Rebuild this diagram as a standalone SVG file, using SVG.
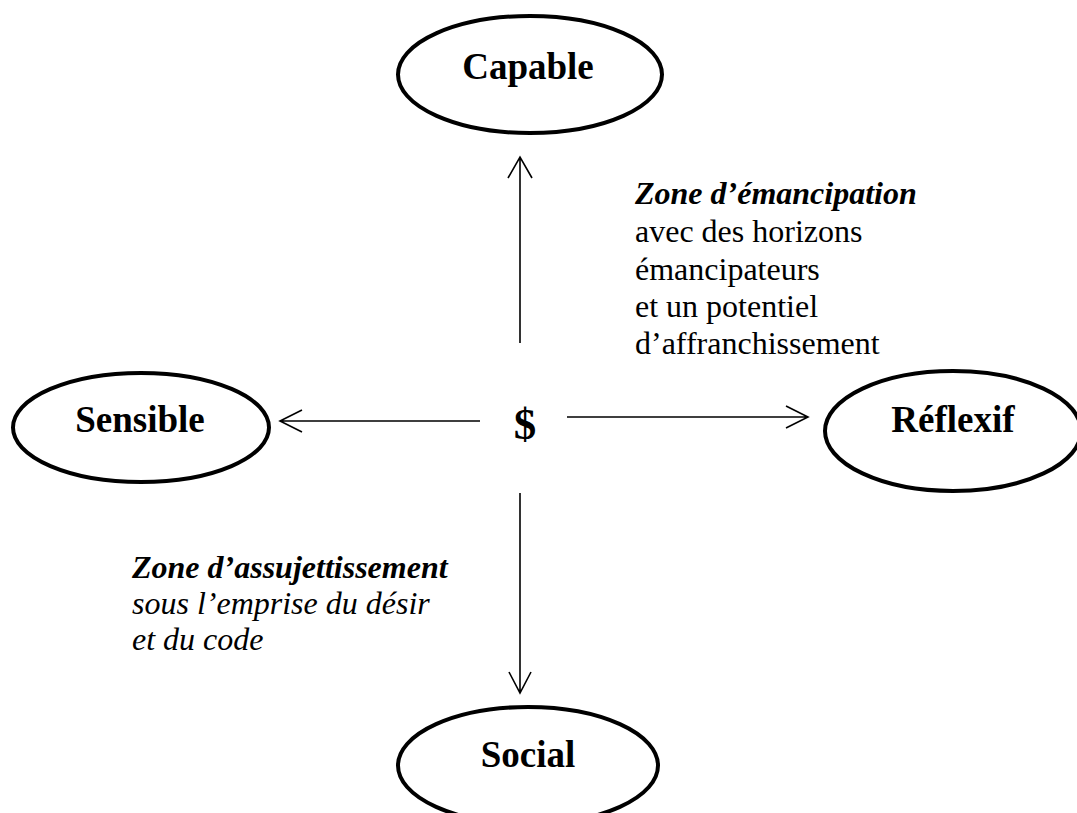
<svg xmlns="http://www.w3.org/2000/svg" width="1077" height="813" viewBox="0 0 1077 813">
<style>
.node{fill:none;stroke:#000;stroke-width:4}
.lbl{font-family:"Liberation Serif","Times New Roman",serif;font-weight:bold;font-size:37px;text-anchor:middle;fill:#000}
.con{fill:none;stroke:#000;stroke-width:1.6}
.txt{font-family:"Liberation Serif","Times New Roman",serif;font-size:32px;fill:#000}
.bi{font-weight:bold;font-style:italic}
.it{font-style:italic}
</style>
<rect width="1077" height="813" fill="#fff"/>
<g id="capable"><ellipse class="node" cx="530" cy="74.5" rx="132" ry="58.5"/><text class="lbl" x="528" y="79">Capable</text></g>
<g id="sensible"><ellipse class="node" cx="141" cy="427.5" rx="128" ry="54.5"/><text class="lbl" x="140" y="432">Sensible</text></g>
<g id="reflexif"><ellipse class="node" cx="953" cy="431" rx="128" ry="60"/><text class="lbl" x="953" y="432">Réflexif</text></g>
<g id="social"><ellipse class="node" cx="528" cy="765.5" rx="130" ry="58.5"/><text class="lbl" x="528" y="767">Social</text></g>
<g id="subject"><text class="lbl" x="525" y="439" style="font-size:45px">$</text></g>
<g id="connectors">
<path class="con" d="M520 343V157M508 178L520 157L532 178"/>
<path class="con" d="M520 493V693M509 672L520 693L531 672"/>
<path class="con" d="M480 421H280M302 410L280 421L302 432"/>
<path class="con" d="M567 417H808M786 406L808 417L786 428"/>
</g>
<g id="zone-emancipation" class="txt">
<text class="bi" x="635" y="204">Zone d’émancipation</text>
<text x="635" y="242">avec des horizons</text>
<text x="635" y="280">émancipateurs</text>
<text x="635" y="317">et un potentiel</text>
<text x="635" y="354">d’affranchissement</text>
</g>
<g id="zone-assujettissement" class="txt">
<text class="bi" x="132" y="578">Zone d’assujettissement</text>
<text class="it" x="132" y="614">sous l’emprise du désir</text>
<text class="it" x="132" y="650">et du code</text>
</g>
</svg>
